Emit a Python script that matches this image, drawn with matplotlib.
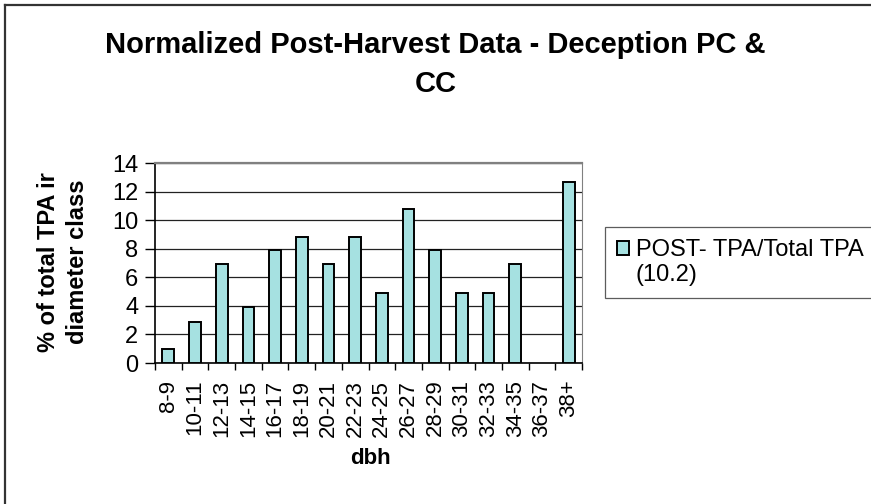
import matplotlib
matplotlib.use("Agg")
import matplotlib.pyplot as plt
from matplotlib.lines import Line2D
from matplotlib.patches import Rectangle
from matplotlib.legend_handler import HandlerPatch

plt.rcParams["font.family"] = ["Liberation Sans", "DejaVu Sans"]

dbh_classes = ["8-9", "10-11", "12-13", "14-15", "16-17", "18-19", "20-21", "22-23",
               "24-25", "26-27", "28-29", "30-31", "32-33", "34-35", "36-37", "38+"]
post_pct = [1.0, 2.9, 6.9, 3.9, 7.9, 8.8, 6.9, 8.8, 4.9, 10.8, 7.9, 4.9, 4.9, 6.9, 0.0, 12.7]
series_label = "POST- TPA/Total TPA\n(10.2)"
title_lines = ["Normalized Post-Harvest Data - Deception PC &", "CC"]
y_ticks = [0, 2, 4, 6, 8, 10, 12, 14]

BAR_COLOR = "#a6e1e1"

W, H = 871, 504
fig = plt.figure(figsize=(W / 100, H / 100), dpi=100)
ax = fig.add_axes([155 / W, 1 - 363 / H, (582 - 155) / W, (363 - 163) / H])

x = list(range(len(dbh_classes)))
bars = ax.bar(x, post_pct, width=0.44, color=BAR_COLOR, edgecolor="black",
              linewidth=1.4, zorder=3)
for b, v in zip(bars, post_pct):
    if v == 0:
        b.set_visible(False)

ax.set_xlim(-0.5, len(dbh_classes) - 0.5)
ax.set_ylim(0, 14)
ax.set_yticks(y_ticks)
ax.tick_params(axis="y", labelsize=17, length=7, width=1, direction="out", pad=5)
ax.yaxis.grid(True, color="#222222", linewidth=0.9, zorder=0)

# category boundaries as major ticks, labels on minor ticks at centres
ax.set_xticks([i - 0.5 for i in range(len(dbh_classes) + 1)])
ax.set_xticklabels([])
ax.set_xticks(x, minor=True)
ax.set_xticklabels(dbh_classes, minor=True, rotation=90, fontsize=16)
ax.tick_params(axis="x", which="major", length=5, width=1, direction="out")
ax.tick_params(axis="x", which="minor", length=0, pad=12)

for side in ["top", "right"]:
    ax.spines[side].set_color("#808080")
ax.spines["top"].set_linewidth(1.6)
ax.spines["right"].set_linewidth(0.8)
ax.spines["left"].set_linewidth(1.2)
ax.spines["bottom"].set_linewidth(1.2)

fig.text(370 / W, 1 - 458 / H, "dbh", ha="center", va="center", fontsize=16,
         fontweight="bold")
fig.text(63 / W, 1 - 262 / H, "% of total TPA ir\ndiameter class", rotation=90,
         ha="center", va="center", multialignment="center", fontsize=17,
         fontweight="bold", linespacing=1.3)

fig.text(0.5, 1 - 53 / H, title_lines[0], ha="center", va="baseline",
         fontsize=21, fontweight="bold")
fig.text(0.5, 1 - 92 / H, title_lines[1], ha="center", va="baseline",
         fontsize=21, fontweight="bold")


def first_line_patch(legend, orig_handle, xdescent, ydescent, width, height, fontsize):
    # keep the swatch level with the first line of the two-line label
    return Rectangle((-xdescent, -ydescent + 0.62 * fontsize), width, height)


swatch = Rectangle((0, 0), 1, 1, facecolor=BAR_COLOR, edgecolor="black", linewidth=1.4)
leg = ax.legend([swatch], [series_label], loc="upper left",
                bbox_to_anchor=(605 / W, 1 - 227 / H),
                bbox_transform=fig.transFigure, fontsize=17, frameon=True,
                fancybox=False, shadow=False, handlelength=0.5, handleheight=0.5,
                handletextpad=0.3, borderpad=0.5, borderaxespad=0,
                handler_map={Rectangle: HandlerPatch(patch_func=first_line_patch)})
leg.get_frame().set_edgecolor("#333333")
leg.get_frame().set_linewidth(0.9)

# outer chart frame (left and top edges visible)
fig.add_artist(Line2D([5 / W, 5 / W], [0, 1 - 5 / H], transform=fig.transFigure,
                      color="#333333", linewidth=1.6))
fig.add_artist(Line2D([5 / W, 1], [1 - 5 / H, 1 - 5 / H], transform=fig.transFigure,
                      color="#333333", linewidth=1.6))

fig.savefig("out.png", dpi=100)
plt.close(fig)
